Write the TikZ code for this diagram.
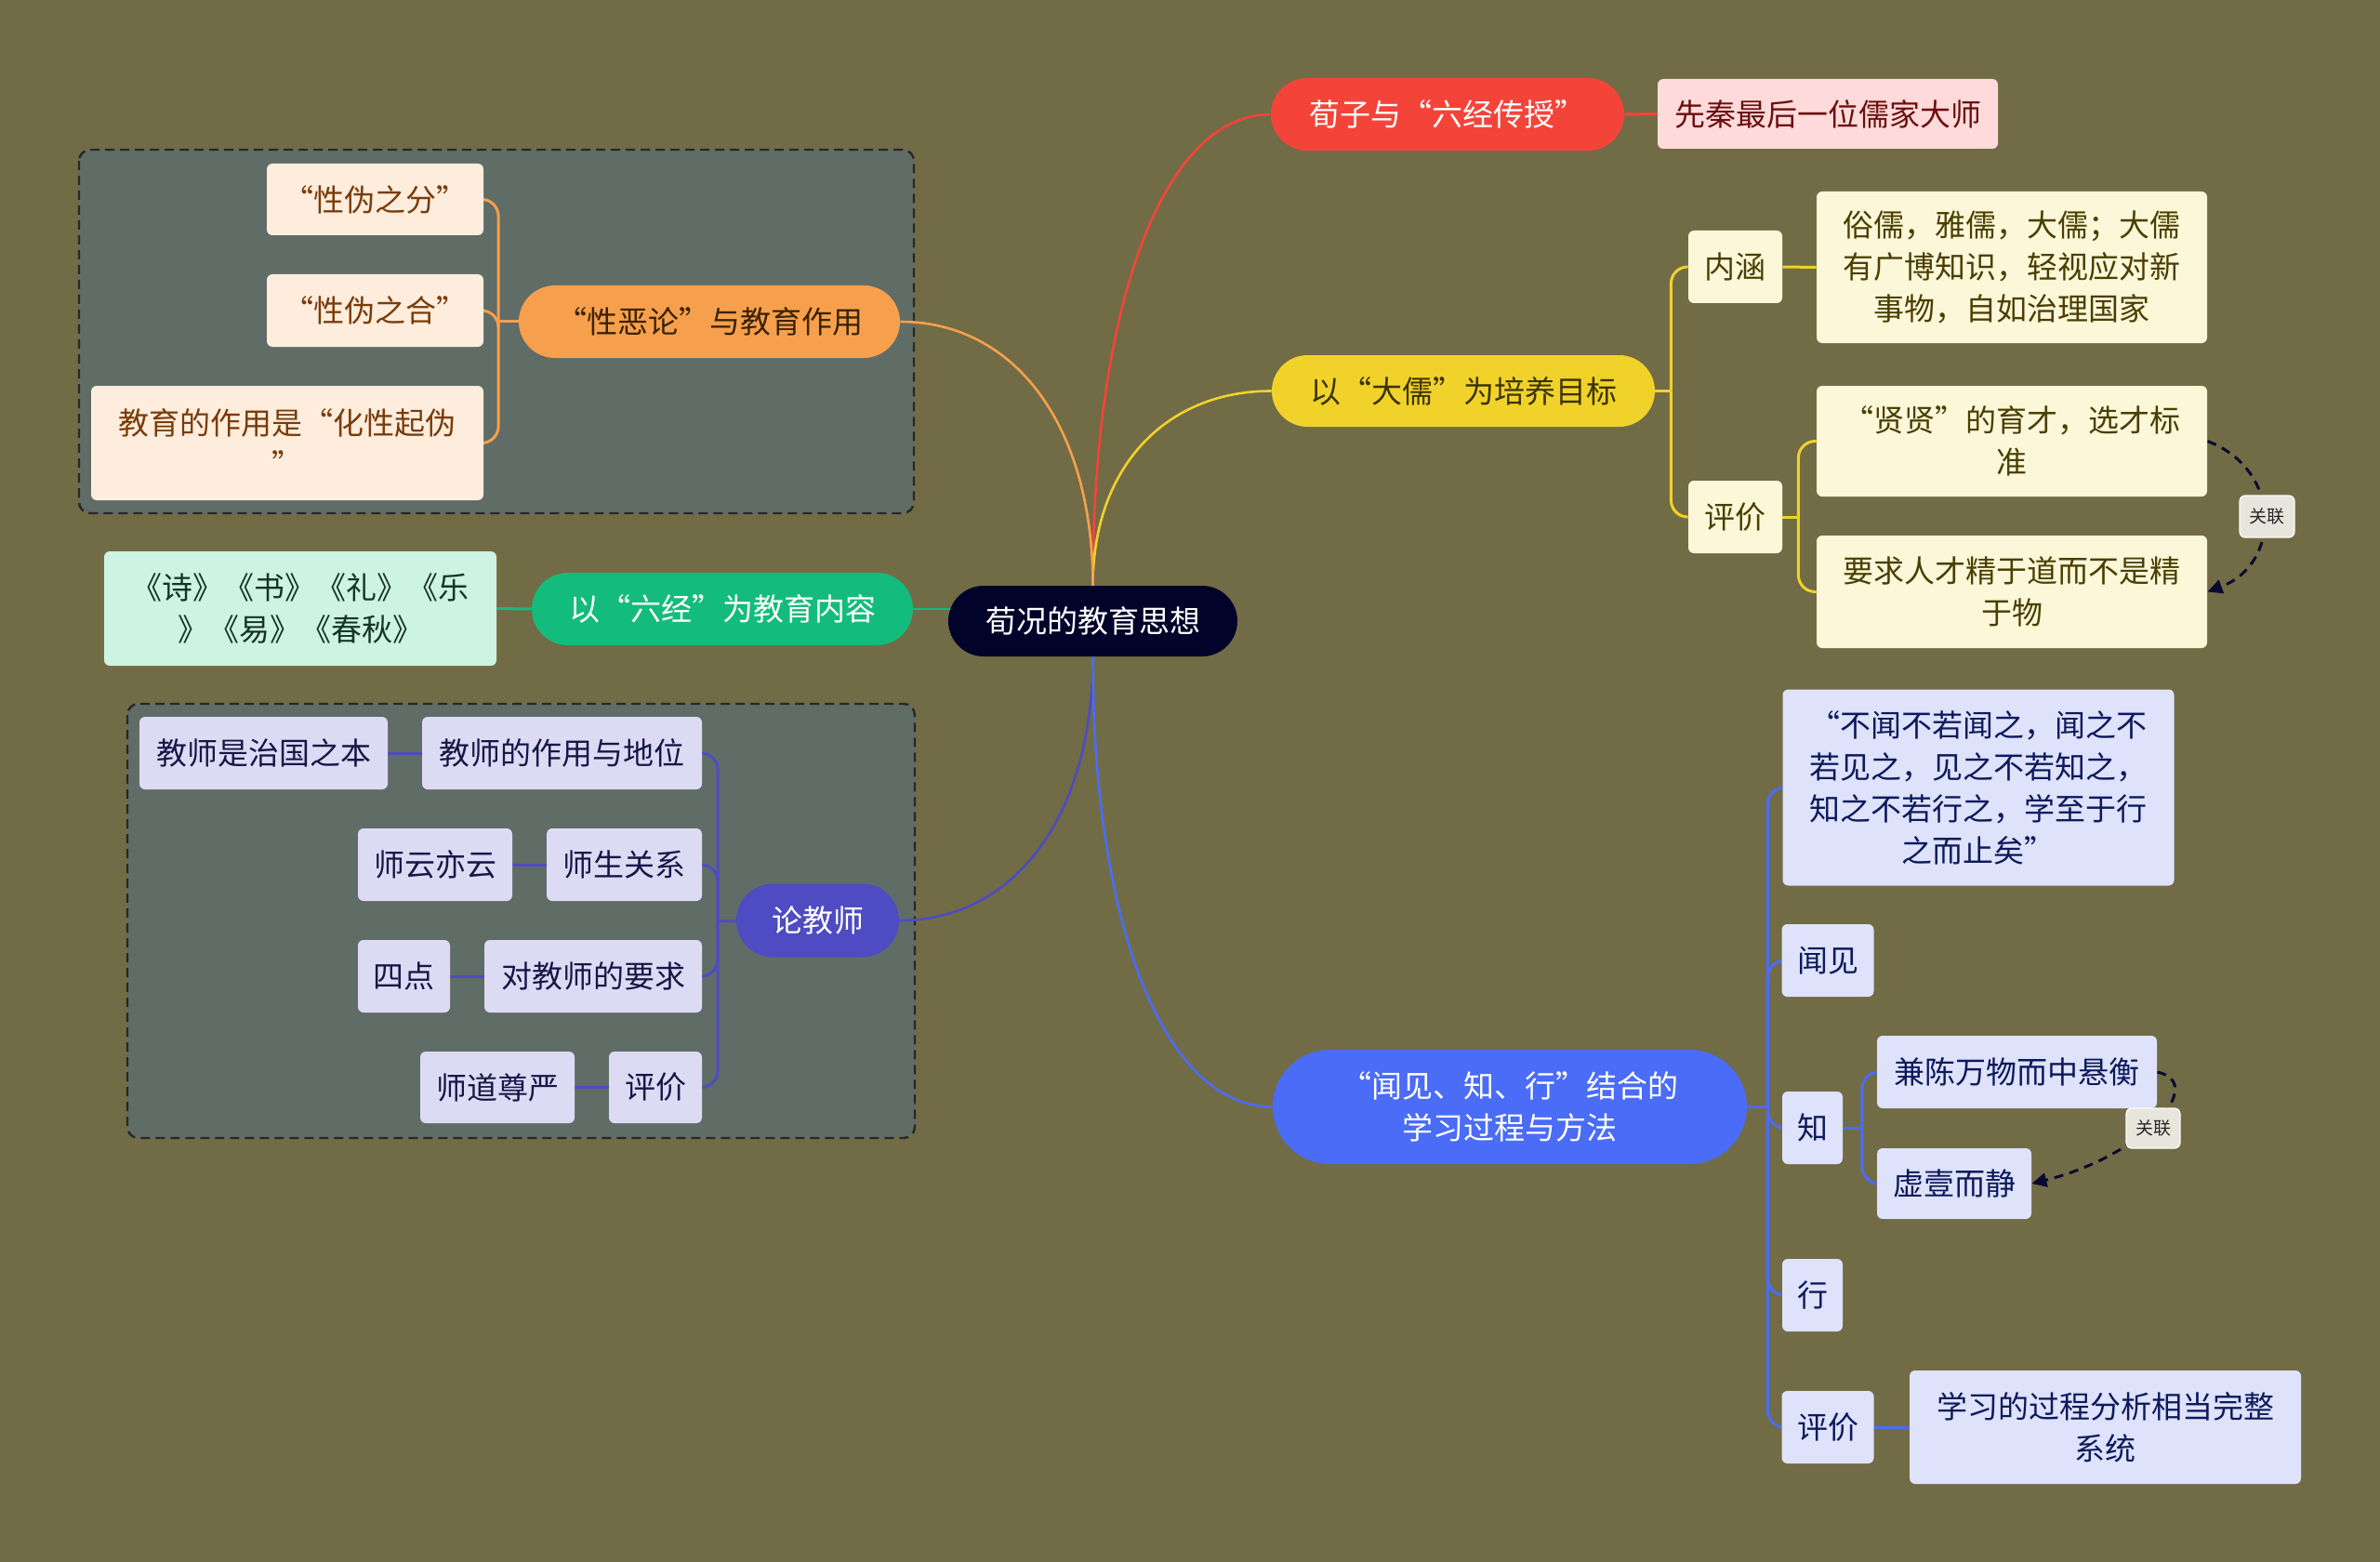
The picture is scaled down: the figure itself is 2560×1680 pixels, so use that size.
\documentclass[tikz,border=0pt]{standalone}
\usepackage{fontspec}
\newfontfamily\cjk{Noto Sans CJK SC}
\usetikzlibrary{calc,shapes.misc,backgrounds,arrows.meta}
\definecolor{bgcol}{RGB}{113,108,69}
\definecolor{grpfill}{RGB}{96,108,102}
\definecolor{grpline}{RGB}{40,40,40}
\definecolor{rootfill}{RGB}{2,3,42}
\definecolor{redc}{RGB}{244,68,58}
\definecolor{pinkc}{RGB}{255,218,218}
\definecolor{pinktext}{RGB}{107,15,15}
\definecolor{yelc}{RGB}{241,210,43}
\definecolor{yeltext}{RGB}{59,51,0}
\definecolor{creamc}{RGB}{253,247,218}
\definecolor{creamtext}{RGB}{74,63,0}
\definecolor{orac}{RGB}{246,160,77}
\definecolor{oratext}{RGB}{59,35,0}
\definecolor{peachc}{RGB}{254,237,221}
\definecolor{peachtext}{RGB}{122,60,10}
\definecolor{grnc}{RGB}{19,188,124}
\definecolor{mintc}{RGB}{205,243,227}
\definecolor{minttext}{RGB}{21,53,40}
\definecolor{purc}{RGB}{78,75,195}
\definecolor{lavc}{RGB}{221,219,244}
\definecolor{lavtext}{RGB}{23,23,71}
\definecolor{bluc}{RGB}{74,108,247}
\definecolor{lbluc}{RGB}{222,226,251}
\definecolor{blutext}{RGB}{13,26,92}
\definecolor{relfill}{RGB}{232,230,220}
\definecolor{arrowc}{RGB}{10,10,48}
\tikzset{
  txt/.style={inner sep=0pt, align=center, font=\cjk\fontsize{16.5}{22.5}\selectfont},
  pill/.style={txt, rounded rectangle},
  card/.style={txt, rectangle, rounded corners=3pt},
  sz/.style 2 args={minimum width=#1, minimum height=#2},
  relbox/.style={inner sep=0pt, rectangle, rounded corners=3pt, fill=relfill, draw=white!85!relfill, line width=0.6pt, text=black!85, font=\cjk\fontsize{9.5}{11}\selectfont},
  conn/.style={line width=1.3pt},
  branch/.style={line width=1.5pt, rounded corners=9pt},
  grp/.style={fill=grpfill, draw=grpline, line width=1.2pt, dash pattern=on 5pt off 3pt, rounded corners=6pt},
  relarrow/.style={draw=black!90, line width=1.5pt, dash pattern=on 5pt off 3.5pt, -{Triangle[length=8pt,width=7.5pt]}, arrowc},
  ycard/.style={card, fill=creamc, text=creamtext},
  ocard/.style={card, fill=peachc, text=peachtext},
  pcard/.style={card, fill=lavc, text=lavtext},
  bcard/.style={card, fill=lbluc, text=blutext}
}
\begin{document}
\begin{tikzpicture}[x=0.5pt,y=-0.5pt]
\useasboundingbox (0,0) rectangle (2560,1680);
% root
\node[pill, sz={155.5pt}{38pt}, fill=rootfill, text=white] (root) at (1175.5,668) {荀况的教育思想};
% red branch
\node[pill, sz={190pt}{39pt}, fill=redc, text=white] (t1) at (1557,123) {荀子与“六经传授”};
\node[card, sz={183pt}{37.5pt}, fill=pinkc, text=pinktext] (t1a) at (1966,122.5) {先秦最后一位儒家大师};
% yellow branch
\node[pill, sz={206pt}{38.5pt}, fill=yelc, text=yeltext] (t2) at (1574,420.5) {以“大儒”为培养目标};
\node[ycard, sz={50.5pt}{39pt}] (t2a) at (1866.5,287) {内涵};
\node[ycard, sz={210pt}{81.5pt}] (t2a1) at (2164,287.5) {俗儒，雅儒，大儒；大儒\\有广博知识，轻视应对新\\事物，自如治理国家};
\node[ycard, sz={50.5pt}{39pt}] (t2b) at (1866.5,556) {评价};
\node[ycard, sz={210pt}{59.5pt}] (t2b1) at (2164,474.5) {“贤贤”的育才，选才标\\准};
\node[ycard, sz={210pt}{60.5pt}] (t2b2) at (2164,636.5) {要求人才精于道而不是精\\于物};
% orange branch
\node[pill, sz={205pt}{39pt}, fill=orac, text=oratext] (t3) at (763,346) {“性恶论”与教育作用};
\node[ocard, sz={116.5pt}{38.5pt}] (t3a) at (403.5,214.5) {“性伪之分”};
\node[ocard, sz={116.5pt}{39pt}] (t3b) at (403.5,334) {“性伪之合”};
\node[ocard, sz={211pt}{61.5pt}] (t3c) at (309,476.5) {教育的作用是“化性起伪\\”};
% green branch
\node[pill, sz={205pt}{39pt}, fill=grnc, text=white] (t4) at (777,655) {以“六经”为教育内容};
\node[card, sz={211pt}{61.5pt}, fill=mintc, text=minttext] (t4a) at (323,654.5) {《诗》《书》《礼》《乐\\》《易》《春秋》};
% purple branch
\node[pill, sz={87.5pt}{39.5pt}, fill=purc, text=white] (t5) at (879.5,990) {论教师};
\node[pcard, sz={150.5pt}{39pt}] (t5a) at (604.5,810) {教师的作用与地位};
\node[pcard, sz={133.5pt}{39pt}] (t5a1) at (283.5,810) {教师是治国之本};
\node[pcard, sz={83.5pt}{39pt}] (t5b) at (671.5,930) {师生关系};
\node[pcard, sz={83pt}{39pt}] (t5b1) at (468,930) {师云亦云};
\node[pcard, sz={117pt}{39pt}] (t5c) at (638,1050) {对教师的要求};
\node[pcard, sz={49.5pt}{39pt}] (t5c1) at (434.5,1050) {四点};
\node[pcard, sz={50pt}{38.5pt}] (t5d) at (705,1169.5) {评价};
\node[pcard, sz={83pt}{38.5pt}] (t5d1) at (535,1169.5) {师道尊严};
% blue branch
\node[pill, sz={255pt}{61.5pt}, fill=bluc, text=white] (t6) at (1624,1190.5) {“闻见、知、行”结合的\\学习过程与方法};
\node[bcard, sz={210.5pt}{105.5pt}] (t6a) at (2128,847) {“不闻不若闻之，闻之不\\若见之，见之不若知之，\\知之不若行之，学至于行\\之而止矣”};
\node[bcard, sz={49.5pt}{39pt}] (t6b) at (1966,1033) {闻见};
\node[bcard, sz={32.5pt}{39pt}] (t6c) at (1949.5,1213) {知};
\node[bcard, sz={150.5pt}{39pt}] (t6c1) at (2169.5,1153) {兼陈万物而中悬衡};
\node[bcard, sz={83pt}{38pt}] (t6c2) at (2102,1273) {虚壹而静};
\node[bcard, sz={32.5pt}{39pt}] (t6d) at (1949.5,1393) {行};
\node[bcard, sz={49.5pt}{39pt}] (t6e) at (1966,1535) {评价};
\node[bcard, sz={210.5pt}{61pt}] (t6e1) at (2264.5,1535) {学习的过程分析相当完整\\系统};
% relation labels
\node[relbox, sz={29.5pt}{22.5pt}] (rel1) at (2438.5,555.5) {关联};
\node[relbox, sz={29pt}{21.5pt}] (rel2) at (2316,1213.5) {关联};

% branch points
\coordinate (yb) at ($(t2.east)+(17,0)$);
\coordinate (yb2) at ($(t2b.east)+(17,0)$);
\coordinate (ob) at ($(t3.west)+(-21.5,0)$);
\coordinate (pb) at ($(t5.west)+(-19.5,0)$);
\coordinate (bb) at ($(t6.east)+(22,0)$);
\coordinate (kb) at ($(t6c.east)+(20.5,0)$);

\begin{pgfonlayer}{background}
\fill[bgcol] (0,0) rectangle (2560,1680);
\draw[grp] (85,161) rectangle (983,552);
\draw[grp] (137,757) rectangle (984,1224);
% main curves
\draw[conn, draw=redc] (root.north) .. controls ($(root.north)!0.6!(root.north|-t1.west)$) and ($(t1.west)!0.6!(root.north|-t1.west)$) .. (t1.west);
\draw[conn, draw=yelc] (root.north) .. controls ($(root.north)!0.6!(root.north|-t2.west)$) and ($(t2.west)!0.6!(root.north|-t2.west)$) .. (t2.west);
\draw[conn, draw=orac] (root.north) .. controls ($(root.north)!0.6!(root.north|-t3.east)$) and ($(t3.east)!0.6!(root.north|-t3.east)$) .. (t3.east);
\draw[conn, draw=grnc] (t4.east) -- ($(root.west)+(10,-13)$);
\draw[conn, draw=purc] (root.south) .. controls ($(root.south)!0.6!(root.south|-t5.east)$) and ($(t5.east)!0.6!(root.south|-t5.east)$) .. (t5.east);
\draw[conn, draw=bluc] (root.south) .. controls ($(root.south)!0.6!(root.south|-t6.west)$) and ($(t6.west)!0.6!(root.south|-t6.west)$) .. (t6.west);
% red
\draw[branch, draw=redc] (t1.east) -- (t1a.west);
% yellow
\draw[branch, draw=yelc] (t2.east) -- (yb);
\draw[branch, draw=yelc] (yb) -- (yb|-t2a.west) -- (t2a.west);
\draw[branch, draw=yelc] (yb) -- (yb|-t2b.west) -- (t2b.west);
\draw[branch, draw=yelc] (t2a.east) -- (t2a1.west);
\draw[branch, draw=yelc] (t2b.east) -- (yb2);
\draw[branch, draw=yelc] (yb2) -- (yb2|-t2b1.west) -- (t2b1.west);
\draw[branch, draw=yelc] (yb2) -- (yb2|-t2b2.west) -- (t2b2.west);
% orange
\draw[branch, draw=orac] (t3.west) -- (ob);
\draw[branch, draw=orac] (ob) -- (ob|-t3a.east) -- (t3a.east);
\draw[branch, draw=orac] (ob) -- (ob|-t3b.east) -- (t3b.east);
\draw[branch, draw=orac] (ob) -- (ob|-t3c.east) -- (t3c.east);
% green
\draw[branch, draw=grnc] (t4.west) -- (t4a.east);
% purple
\draw[branch, draw=purc] (t5.west) -- (pb);
\draw[branch, draw=purc] (pb) -- (pb|-t5a.east) -- (t5a.east);
\draw[branch, draw=purc] (pb) -- (pb|-t5b.east) -- (t5b.east);
\draw[branch, draw=purc] (pb) -- (pb|-t5c.east) -- (t5c.east);
\draw[branch, draw=purc] (pb) -- (pb|-t5d.east) -- (t5d.east);
\draw[branch, draw=purc] (t5a.west) -- (t5a1.east);
\draw[branch, draw=purc] (t5b.west) -- (t5b1.east);
\draw[branch, draw=purc] (t5c.west) -- (t5c1.east);
\draw[branch, draw=purc] (t5d.west) -- (t5d1.east);
% blue
\draw[branch, draw=bluc] (t6.east) -- (bb);
\draw[branch, draw=bluc] (bb) -- (bb|-t6a.west) -- (t6a.west);
\draw[branch, draw=bluc] (bb) -- (bb|-t6b.west) -- (t6b.west);
\draw[branch, draw=bluc] (bb) -- (bb|-t6c.west) -- (t6c.west);
\draw[branch, draw=bluc] (bb) -- (bb|-t6d.west) -- (t6d.west);
\draw[branch, draw=bluc] (bb) -- (bb|-t6e.west) -- (t6e.west);
\draw[branch, draw=bluc] (t6c.east) -- (kb);
\draw[branch, draw=bluc] (kb) -- (kb|-t6c1.west) -- (t6c1.west);
\draw[branch, draw=bluc] (kb) -- (kb|-t6c2.west) -- (t6c2.west);
\draw[branch, draw=bluc] (t6e.east) -- (t6e1.west);
% relations
\draw[relarrow] (t2b1.east) .. controls ($(t2b1.east)+(80,30)$) and ($(t2b2.east)+(80,-30)$) .. (t2b2.east);
\draw[relarrow] (t6c1.east) .. controls ($(t6c1.east)+(55,12)$) and ($(t6c2.east)+(120,-30)$) .. (t6c2.east);
\end{pgfonlayer}
\end{tikzpicture}
\end{document}
